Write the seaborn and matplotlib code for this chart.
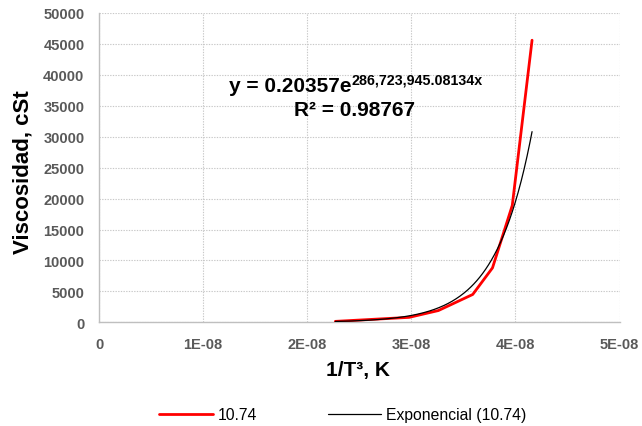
import numpy as np
import pandas as pd
import matplotlib
matplotlib.use("Agg")
import matplotlib.pyplot as plt
import seaborn as sns

# ---- data ----
inv_T3 = [2.27e-8, 2.98e-8, 3.26e-8, 3.59e-8, 3.78e-8, 3.97e-8, 4.16e-8]
viscosity = [150, 800, 1900, 4500, 8800, 18900, 45600]
series_label = "10.74"
trend_label = "Exponencial (10.74)"
fit_a = 0.20357
fit_b = 286723945.08134
x_ticks = [0, 1e-8, 2e-8, 3e-8, 4e-8, 5e-8]
x_tick_labels = ["0", "1E-08", "2E-08", "3E-08", "4E-08", "5E-08"]
y_ticks = list(range(0, 50001, 5000))

sns.set_style("white")
plt.rcParams["font.family"] = ["Liberation Sans", "DejaVu Sans"]
plt.rcParams["text.color"] = "black"
plt.rcParams["axes.labelcolor"] = "black"

W, H = 642, 427
fig = plt.figure(figsize=(W / 100, H / 100), dpi=100)
ax_bottom = 323.3
ax_h = 323.3 - 14
ax_left = 99
ax_w = 619.5 - 99
ax = fig.add_axes([ax_left / W, 1 - ax_bottom / H, ax_w / W, ax_h / H])

df = pd.DataFrame({"x": inv_T3, "y": viscosity, "s": series_label})
xt = np.linspace(min(inv_T3), max(inv_T3), 200)
dft = pd.DataFrame({"x": xt, "y": fit_a * np.exp(fit_b * xt), "s": trend_label})

sns.lineplot(data=df, x="x", y="y", ax=ax, color="#ff0000", linewidth=2.0,
             sort=False, label=series_label, zorder=3)
sns.lineplot(data=dft, x="x", y="y", ax=ax, color="black", linewidth=0.9,
             sort=False, label=trend_label, zorder=4)

ax.set_xlim(0, 5e-8)
ax.set_ylim(0, 50000)
ax.set_xticks(x_ticks)
ax.set_xticklabels(x_tick_labels)
ax.set_yticks(y_ticks)
ax.set_yticklabels([str(v) for v in y_ticks])
ax.tick_params(axis="both", length=0, labelsize=10.5, labelcolor="#595959", pad=10.5)
for lab in ax.get_xticklabels() + ax.get_yticklabels():
    lab.set_fontweight("bold")

ax.grid(True, color="#c8c8c8", linestyle=(0, (1.2, 1.2)), linewidth=0.8)
for side in ["top", "right"]:
    ax.spines[side].set_visible(False)
for side in ["left", "bottom"]:
    ax.spines[side].set_color("#bfbfbf")
    ax.spines[side].set_linewidth(1.0)

ax.set_xlabel("1/T³, K", fontsize=15, fontweight="bold", color="black")
ax.xaxis.label.set_va("center")
ax.xaxis.set_label_coords((358 - ax_left) / ax_w, (ax_bottom - 371) / ax_h)
ax.set_ylabel("Viscosidad, cSt", fontsize=16, fontweight="bold", color="black")
ax.yaxis.label.set_va("center")
ax.yaxis.set_label_coords((23 - ax_left) / ax_w, (ax_bottom - 172.5) / ax_h)

# equation text
fig.text(352 / W, 1 - 92 / H, "y = 0.20357e", ha="right", va="baseline",
         fontsize=15, fontweight="bold", color="black")
fig.text(352 / W, 1 - 84.5 / H, "286,723,945.08134x", ha="left", va="baseline",
         fontsize=10.3, fontweight="bold", color="black")
fig.text(355 / W, 1 - 116 / H, "R² = 0.98767", ha="center", va="baseline",
         fontsize=15, fontweight="bold", color="black")

ax.get_legend().remove()
handles, labels = ax.get_legend_handles_labels()
leg = fig.legend(handles, labels, loc="center", bbox_to_anchor=(343 / W, 1 - 416 / H),
                 ncol=2, frameon=False, fontsize=11.3, handlelength=3.4,
                 handletextpad=0.32, columnspacing=4.5, borderpad=0, borderaxespad=0)
for t in leg.get_texts():
    t.set_color("black")

fig.savefig("out.png", dpi=100)
